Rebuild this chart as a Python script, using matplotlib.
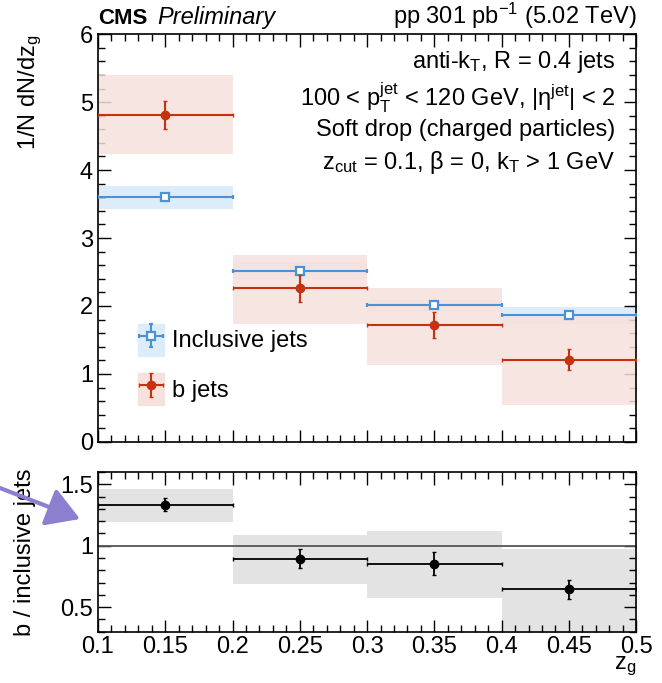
import numpy as np
import matplotlib.pyplot as plt
from matplotlib.patches import Patch, FancyArrowPatch
from matplotlib.legend_handler import HandlerTuple
from matplotlib.ticker import MultipleLocator

plt.rcParams['font.family'] = ['Liberation Sans', 'DejaVu Sans']
plt.rcParams['mathtext.fontset'] = 'custom'
plt.rcParams['mathtext.rm'] = 'Liberation Sans'
plt.rcParams['mathtext.it'] = 'Liberation Sans:italic'

# z_g bins
edges = [0.1, 0.2, 0.3, 0.4, 0.5]
centers = [0.15, 0.25, 0.35, 0.45]

# inclusive jets
incl = [3.60, 2.52, 2.01, 1.86]
incl_stat = [0.02, 0.02, 0.02, 0.02]
incl_sys_lo = [3.43, 2.40, 1.91, 1.74]
incl_sys_hi = [3.77, 2.64, 2.09, 1.99]

# b jets
bjet = [4.81, 2.26, 1.72, 1.21]
bjet_stat = [0.20, 0.20, 0.19, 0.15]
bjet_sys_lo = [4.23, 1.74, 1.13, 0.55]
bjet_sys_hi = [5.40, 2.75, 2.27, 1.87]

# ratio b / inclusive
ratio = [1.335, 0.895, 0.855, 0.645]
ratio_stat = [0.05, 0.08, 0.09, 0.08]
ratio_sys_lo = [1.19, 0.69, 0.575, 0.25]
ratio_sys_hi = [1.465, 1.09, 1.12, 0.97]

c_incl = '#4b91d6'
c_incl_box = '#dcecf8'
c_b = '#c4320f'
c_b_box = '#f6e1dc'
c_r_box = '#e3e3e3'

fs = 17

fig = plt.figure(figsize=(6.62, 6.83), dpi=100)
ax = fig.add_axes([0.148, 0.353, 0.813, 0.597])
axr = fig.add_axes([0.148, 0.075, 0.813, 0.234])

xerr = [0.05] * 4

def boxes(a, lo, hi, color, alpha=1.0, z=1):
    for i in range(4):
        a.fill_between([edges[i], edges[i + 1]], lo[i], hi[i],
                       color=color, lw=0, alpha=alpha, zorder=z)

boxes(ax, incl_sys_lo, incl_sys_hi, c_incl_box, z=1)
boxes(ax, bjet_sys_lo, bjet_sys_hi, c_b_box, alpha=0.85, z=2)

eb_incl = ax.errorbar(centers, incl, xerr=xerr, yerr=incl_stat, fmt='s',
                      color=c_incl, mfc='white', mec=c_incl, mew=1.6, ms=6,
                      lw=1.5, capsize=1.5, zorder=4)
eb_b = ax.errorbar(centers, bjet, xerr=xerr, yerr=bjet_stat, fmt='o',
                   color=c_b, ms=6, lw=1.5, capsize=1.5, zorder=5)

ax.set_xlim(0.1, 0.5)
ax.set_ylim(0, 6)
ax.set_ylabel('1/N dN/dz$_{\\mathrm{g}}$', fontsize=fs, loc='top')

# ratio panel
boxes(axr, ratio_sys_lo, ratio_sys_hi, c_r_box, z=1)
axr.axhline(1, color='#555555', lw=1.3, zorder=2)
axr.errorbar(centers, ratio, xerr=xerr, yerr=ratio_stat, fmt='o',
             color='black', ms=6, lw=1.3, capsize=1.5, zorder=4)
axr.set_xlim(0.1, 0.5)
axr.set_ylim(0.3, 1.6)
axr.set_ylabel('b / inclusive jets', fontsize=fs)
axr.set_xlabel('z$_{\\mathrm{g}}$', fontsize=fs, ha='right', va='top')
axr.xaxis.set_label_coords(1.0, -0.145)

for a in (ax, axr):
    a.xaxis.set_major_locator(MultipleLocator(0.05))
    a.xaxis.set_minor_locator(MultipleLocator(0.01))
    a.tick_params(which='both', direction='in', top=True, right=True,
                  labelsize=fs, width=1)
    a.tick_params(which='major', length=9)
    a.tick_params(which='minor', length=5)
    a.tick_params(axis='x', pad=3)
    for s in a.spines.values():
        s.set_linewidth(1.2)

ax.tick_params(axis='x', labelbottom=False)
axr.xaxis.set_major_formatter(plt.FuncFormatter(lambda v, p: f'{v:g}'))
ax.yaxis.set_major_locator(MultipleLocator(1))
ax.yaxis.set_minor_locator(MultipleLocator(0.2))
axr.yaxis.set_major_locator(MultipleLocator(0.5))
axr.yaxis.set_minor_locator(MultipleLocator(0.1))
axr.yaxis.set_major_formatter(plt.FuncFormatter(lambda v, p: f'{v:g}'))
ax.yaxis.set_label_coords(-0.1, 1.0)
axr.yaxis.set_label_coords(-0.115, 0.5)

# legend entries: shaded box + marker with error bars
h_incl = (Patch(color=c_incl_box), eb_incl)
h_b = (Patch(color=c_b_box), eb_b)
ax.legend([h_incl, h_b], ['Inclusive jets', 'b jets'],
          handler_map={tuple: HandlerTuple(ndivide=1, pad=0)},
          loc='lower left', bbox_to_anchor=(0.074, 0.09), frameon=False,
          fontsize=fs, handlelength=1.1, handleheight=1.7, handletextpad=0.35,
          labelspacing=0.75, borderpad=0, borderaxespad=0)

# header and selection text
fig.text(0.148, 1 - 24 / 683, 'CMS', fontsize=16, fontweight='bold', va='baseline')
fig.text(0.238, 1 - 24 / 683, 'Preliminary', fontsize=fs, style='italic', va='baseline')
fig.text(0.961, 1 - 24 / 683, 'pp 301 pb$^{-1}$ (5.02 TeV)', fontsize=fs,
         ha='right', va='baseline')

lines = ['anti-k$_{\\mathrm{T}}$, R = 0.4 jets',
         '100 < p$_{\\mathrm{T}}^{\\mathrm{jet}}$ < 120 GeV, |$\\mathrm{\\eta}^{\\mathrm{jet}}$| < 2',
         'Soft drop (charged particles)',
         'z$_{\\mathrm{cut}}$ = 0.1, β = 0, k$_{\\mathrm{T}}$ > 1 GeV']
ys = [0.931, 0.843, 0.765, 0.686]
for t, y in zip(lines, ys):
    ax.text(0.961, y, t, transform=ax.transAxes, ha='right', va='center',
            fontsize=fs)

# arrow pointing at the ratio axis label
fig.patches.append(FancyArrowPatch(
    (0 / 662, 1 - 488 / 683), (80 / 662, 1 - 519 / 683),
    transform=fig.transFigure, arrowstyle='-|>,head_length=10,head_width=6',
    color='#8c7fcf', lw=3, mutation_scale=2, shrinkA=0, shrinkB=0))

fig.savefig('out.png', dpi=100)
